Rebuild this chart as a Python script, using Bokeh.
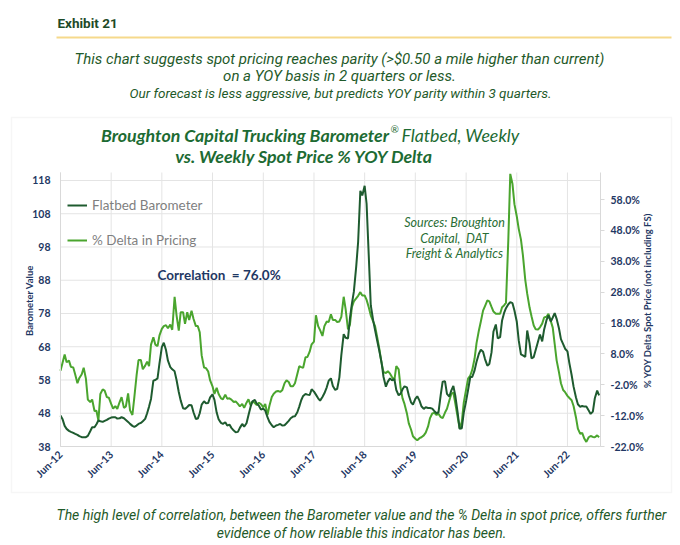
#Script to plot the flatbed barometer vs. spot price % YOY delta using bokeh

##### IMPORT NECESSARY MODULES #####
import math
import pandas as pd

from bokeh.plotting import figure
from bokeh.models import (Range1d, LinearAxis, FixedTicker, PrintfTickFormatter,
                          DatetimeTickFormatter, Label, Legend, LegendItem, BoxAnnotation)
from bokeh.embed import file_html
from bokeh.resources import INLINE

#### DATA (two values per month from Jun-12) ####
dates = pd.date_range("2012-06-01", periods=256, freq="SMS")

#flatbed barometer value (left axis)
barometer = [47.3, 46.3, 44.2, 43.3, 42.7, 42.4, 42.1,
             41.8, 41.5, 41.1, 40.8, 40.8, 40.8, 41.2,
             42.6, 43.8, 43.8, 44.7, 45.8, 45.6, 45.4,
             45.7, 46.0, 46.4, 46.7, 46.8, 46.8, 46.4,
             46.5, 46.8, 46.5, 46.0, 45.4, 44.8, 44.2,
             43.9, 44.3, 44.8, 45.1, 45.6, 46.3, 48.0,
             50.0, 52.3, 57.8, 58.0, 58.5, 63.0, 67.9,
             69.2, 67.0, 63.8, 61.9, 61.2, 60.6, 58.0,
             54.4, 51.8, 49.5, 49.3, 49.9, 50.5, 50.4,
             48.3, 46.3,
             46.4, 48.0, 50.6, 51.6, 51.0, 51.1, 52.8,
             53.7, 52.0, 48.2, 46.2, 45.1, 44.8, 45.3,
             44.3, 44.6, 43.6, 42.8, 42.3, 42.4, 43.6,
             44.8, 44.0, 45.0, 47.4, 49.9, 51.6, 52.0,
             50.9, 50.2, 49.1, 49.4, 48.8, 46.8, 45.4,
             44.4, 43.8, 44.3, 44.5, 44.8, 44.3, 44.4,
             45.0, 45.7, 46.5, 47.0, 47.1, 48.3, 50.0,
             51.9, 53.2, 53.8, 53.6, 53.5, 55.2, 54.5,
             53.6, 52.5, 51.8, 52.9, 54.0, 55.8, 57.8,
             58.5, 56.2,
             55.0, 55.3, 58.8, 65.5, 71.8, 70.7, 70.5,
             76.5, 80.9, 84.5, 92.0, 99.5, 114.9, 113.5,
             116.4, 111.0, 95.0, 80.5, 76.0, 73.0, 69.5,
             66.7, 63.2, 58.9, 56.0, 57.5, 58.5, 57.9,
             58.3, 55.0, 53.4, 53.9, 55.2, 56.1, 55.8,
             53.4, 51.3, 50.6, 52.3, 53.1, 51.8, 50.1,
             49.3, 49.8, 49.6, 49.6, 49.4, 48.7, 48.0,
             48.3, 53.5, 57.5, 57.6, 53.8, 53.0, 54.8,
             56.2, 53.3, 48.2, 43.3, 43.5, 48.2, 51.7,
             55.0, 58.9, 58.9, 60.9, 63.5, 65.9, 67.1,
             66.5, 64.3, 62.3, 62.8, 66.3, 72.6, 74.7,
             70.5, 70.9, 75.9, 78.1, 79.6, 80.8, 81.4,
             81.1, 78.9, 75.5, 69.9, 65.7, 65.4, 64.9,
             72.9, 69.0, 64.5, 64.9, 67.0, 69.6, 71.7,
             69.6, 73.2, 76.0, 77.4, 75.6, 76.8, 78.1,
             76.4, 73.5, 70.3, 68.8, 67.4, 66.6, 63.0,
             59.5, 56.0, 52.8, 50.7, 49.9, 50.2, 50.0,
             50.0, 48.8, 47.8, 48.5, 52.5, 54.8, 53.4]

#% YOY delta in spot pricing (right axis)
delta = [2.5, 5.0, 7.8, 5.3, 5.8, 3.8, 3.6,
         1.3, -1.5, 0.2, 1.4, 3.5, 0.0, -6.8,
         -7.6, -6.8, -10.5, -10.4, -13.6, -5.0, -3.5,
         -3.9, -6.0, -6.2, -8.2, -9.7, -8.9, -9.8,
         -7.6, -6.0, -9.5, -9.0, -4.8, -10.3, -11.8,
         -6.0, 1.0, 6.0, 6.0, 3.0, 4.2, 5.5,
         4.0, 11.0, 13.4, 11.0, 10.5, 14.0, 16.1,
         17.0, 17.3, 16.3, 17.5, 15.8, 26.5, 20.5,
         15.5, 21.5, 21.5, 17.7, 21.5, 19.0, 22.0,
         19.4, 17.0,
         17.0, 15.0, 7.5, 3.6, 3.4, 2.3, -0.6,
         -2.5, -5.0, -3.0, -5.0, -6.4, -6.7, -5.2,
         -6.5, -6.4, -6.8, -7.6, -7.4, -8.2, -9.0,
         -8.2, -9.5, -7.8, -6.7, -8.6, -7.4, -7.9,
         -8.6, -7.8, -8.3, -9.3, -8.2, -11.8, -8.8,
         -6.0, -4.9, -4.2, -4.0, -4.3, -3.8, -1.5,
         -0.6, -1.1, -2.5, -2.5, -1.5, 1.5, 4.0,
         3.7, 3.5, 6.9, 7.0, 8.7, 11.1, 12.0,
         20.5, 17.0, 15.7, 13.8, 17.0, 18.5, 18.3,
         20.8, 19.0,
         19.0, 18.3, 18.5, 20.0, 26.5, 22.5, 15.9,
         17.5, 23.1, 25.0, 26.0, 26.8, 28.0, 26.9,
         26.9, 25.5, 23.0, 20.5, 18.5, 17.0, 13.0,
         9.5, 5.0, 2.1, 1.8, 2.4, 1.6, 0.5,
         -0.6, 4.0, 3.0, -3.0, -6.4, -8.2, -11.2,
         -14.5, -16.5, -18.7, -19.5, -20.0, -19.3, -19.0,
         -18.4, -17.5, -15.5, -12.8, -11.3, -11.1, -11.8,
         -11.4, -12.5, -12.8, -11.0, -9.8, -7.1, -5.0,
         -4.5, -8.0, -12.5, -16.0, -14.0, -7.8, -3.5,
         0.0, 1.0, 2.8, 6.5, 11.5, 15.6, 18.5,
         22.0, 23.5, 25.3, 25.0, 23.2, 21.7, 21.0,
         21.0, 21.0, 23.1, 23.7, 24.5, 45.0, 66.3,
         63.0, 56.5, 52.5, 48.5, 45.0, 40.0, 32.0,
         27.5, 23.0, 20.2, 17.2, 16.0, 15.9, 16.6,
         17.8, 19.8, 20.0, 21.0, 18.6, 16.5, 11.2,
         5.9, 2.0, -1.5, -3.7, -4.4, -5.6, -6.3,
         -7.0, -8.9, -12.5, -16.2, -17.9, -17.6, -19.5,
         -20.5, -19.0, -18.6, -18.9, -19.0, -18.4, -19.0]

#axis extents and tick positions
date_start = pd.Timestamp("2012-06-01")
date_end = pd.Timestamp("2023-01-25")
left_lo, left_hi = 38, 120.4
right_lo, right_hi = -22, 66.75
left_ticks = [38, 48, 58, 68, 78, 88, 98, 108, 118]
right_ticks = [-22, -12, -2, 8, 18, 28, 38, 48, 58]
tick_dates = pd.to_datetime([f"{y}-06-01" for y in range(2012, 2023)])

#### COLORS ####
navy = "#1f3864"
dark_green = "#1e5b2f"
light_green = "#4aa52e"
title_green = "#1d6b33"
text_green = "#1f5a2a"
grid_gray = "#e4e4e4"

#### GEOMETRY ####
#the frame fills the whole canvas; the axes are pinned where the plot box sits
W, H = 676, 541
box_l, box_r, box_t, box_b = 60, 600, 172, 446

def to_ms(d):
    return d.timestamp() * 1000

ms_per_px = (to_ms(date_end) - to_ms(date_start)) / (box_r - box_l)
x_lo = to_ms(date_start) - box_l * ms_per_px
x_hi = to_ms(date_end) + (W - box_r) * ms_per_px
lpx = (box_b - box_t) / (left_hi - left_lo)
rpx = (box_b - box_t) / (right_hi - right_lo)

p = figure(width=W, height=H, x_axis_type="datetime",
           x_range=Range1d(x_lo, x_hi),
           y_range=Range1d(left_lo - (H - box_b) / lpx, left_hi + box_t / lpx),
           min_border=0, min_border_left=0, min_border_right=0,
           min_border_top=0, min_border_bottom=0,
           output_backend="svg", toolbar_location=None)
p.outline_line_color = None
p.background_fill_color = "white"
p.border_fill_color = "white"
p.xgrid.visible = False
p.ygrid.visible = False

p.extra_y_ranges = {"pct": Range1d(right_lo - (H - box_b) / rpx, right_hi + box_t / rpx)}

#grid lines, kept inside the plot box
p.segment(x0=date_start, x1=date_end, y0=left_ticks, y1=left_ticks,
          color=grid_gray, line_width=1, level="underlay")
p.segment(x0=tick_dates, x1=tick_dates, y0=left_lo, y1=left_hi,
          color=grid_gray, line_width=1, level="underlay")

#plot data
r_delta = p.line(dates, delta, y_range_name="pct", color=light_green, line_width=2)
r_baro = p.line(dates, barometer, color=dark_green, line_width=2)

#left axis
p.yaxis.ticker = FixedTicker(ticks=left_ticks)
p.yaxis.bounds = (left_lo, left_hi)
p.yaxis.fixed_location = to_ms(date_start)

#right axis
right_axis = LinearAxis(y_range_name="pct", ticker=FixedTicker(ticks=right_ticks),
                        formatter=PrintfTickFormatter(format="%.1f%%"),
                        bounds=(right_lo, right_hi), fixed_location=to_ms(date_end))
p.add_layout(right_axis, "right")

#bottom axis
p.xaxis.ticker = FixedTicker(ticks=[to_ms(d) for d in tick_dates])
p.xaxis.formatter = DatetimeTickFormatter(years="%b-%y", months="%b-%y", days="%b-%y",
                                          hours="%b-%y", minutes="%b-%y", seconds="%b-%y",
                                          milliseconds="%b-%y")
p.xaxis.major_label_orientation = 0.785
p.xaxis.bounds = (to_ms(date_start), to_ms(date_end))
p.xaxis.fixed_location = left_lo

for ax in p.axis:
    ax.axis_line_color = "#d9d9d9"
    ax.major_tick_line_color = None
    ax.major_tick_out = 0
    ax.major_tick_in = 0
    ax.minor_tick_line_color = None
    ax.major_label_text_color = navy
    ax.major_label_text_font = "Lato"
    ax.major_label_text_font_style = "bold"
    ax.major_label_text_font_size = "10.5px"
    ax.major_label_standoff = 10
right_axis.major_tick_line_color = "#d9d9d9"
right_axis.major_tick_out = 4
right_axis.major_label_standoff = 6
p.xaxis.major_label_standoff = 6

#legend
legend = Legend(items=[LegendItem(label="Flatbed Barometer", renderers=[r_baro]),
                       LegendItem(label="% Delta in Pricing", renderers=[r_delta])],
                location=(67, H - 250), orientation="vertical",
                label_text_color="#7f7f7f", label_text_font="Lato", label_text_font_size="13.5px",
                glyph_width=20, glyph_height=20, label_height=20, spacing=15,
                padding=0, margin=0, border_line_alpha=0, background_fill_alpha=0)
p.add_layout(legend, "center")

#### TEXTS (page coordinates, converted to screen units) ####
def page_label(px, py, text, **kw):
    p.add_layout(Label(x=px, y=H - py, x_units="screen", y_units="screen", text=text,
                       text_baseline="middle", **kw))

def page_box(l, r, t, b, **kw):
    p.add_layout(BoxAnnotation(left=l, right=r, top=H - t, bottom=H - b,
                               left_units="screen", right_units="screen",
                               top_units="screen", bottom_units="screen", **kw))

page_label(57, 22, "Exhibit 21", text_font="Roboto", text_font_style="bold",
           text_font_size="13.5px", text_color="#1e4a28")
page_box(56, 671, 36, 38, fill_color="#f6d98b", fill_alpha=1, line_color=None)

sub = dict(text_font="Roboto", text_font_style="italic", text_color=text_green,
           text_align="center")
page_label(339, 58, "This chart suggests spot pricing reaches parity (>$0.50 a mile higher than current)",
           text_font_size="15px", **sub)
page_label(339, 75, "on a YOY basis in 2 quarters or less.", text_font_size="15px", **sub)
page_label(340, 92, "Our forecast is less aggressive, but predicts YOY parity within 3 quarters.",
           text_font_size="13.5px", **sub)

#chart box
page_box(11, 671, 117, 492, fill_alpha=0, line_color="#e2e2e2", line_width=1.5)

ttl = dict(text_font="Lato", text_color=title_green, text_font_size="17.8px")
page_label(389, 134, "Broughton Capital Trucking Barometer", text_font_style="bold italic",
           text_align="right", **ttl)
page_label(390, 128, "®", text_font="Lato", text_font_style="italic", text_font_size="10px",
           text_color=title_green, text_align="left")
page_label(401, 134, "Flatbed, Weekly", text_font_style="italic", text_align="left", **ttl)
page_label(304, 155, "vs. Weekly Spot Price % YOY Delta", text_font_style="bold italic",
           text_align="center", **ttl)

#axis titles
axt = dict(text_font="Lato", text_font_style="bold", text_font_size="9.5px", text_color=navy,
           text_align="center", angle=math.pi / 2)
page_label(29, 300, "Barometer Value", **axt)
page_label(647, 300, "% YOY Delta Spot Price (not including FS)", **axt)

page_label(157, 274, "Correlation\u00a0 = 76.0%", text_font="Lato", text_font_style="bold",
           text_font_size="13.5px", text_color=navy)

src = dict(text_font="Lato", text_font_style="italic", text_font_size="12.5px",
           text_color="#2a6e35", text_align="center")
page_label(454, 222, "Sources: Broughton", **src)
page_label(454, 238, "Capital,\u00a0 DAT", **src)
page_label(454, 253, "Freight & Analytics", **src)

foot = dict(text_font="Roboto", text_font_style="italic", text_color=text_green,
            text_align="center", text_font_size="14px")
page_label(361, 514, "The high level of correlation, between the Barometer value and the % Delta in spot price, offers further", **foot)
page_label(361, 532, "evidence of how reliable this indicator has been.", **foot)

#### WRITE PAGE ####
open("out.html", "w").write(file_html(p, INLINE))
